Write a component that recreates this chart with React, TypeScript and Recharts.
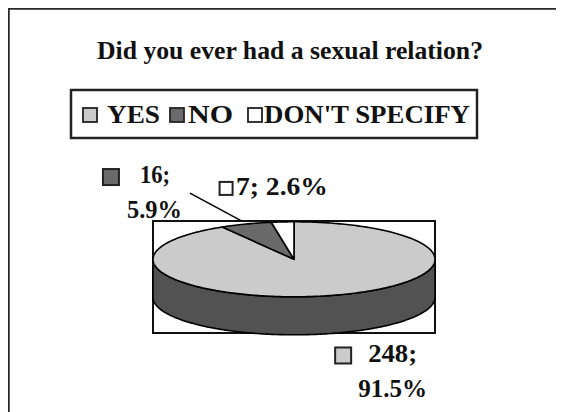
import React from 'react';
import { PieChart, Pie, Customized } from 'recharts';

const TITLE = 'Did you ever had a sexual relation?';
const CATEGORIES = ['YES', 'NO', "DON'T SPECIFY"];
const COUNTS = [248, 16, 7];
const PERCENTS = ['91.5%', '5.9%', '2.6%'];
const TOP_COLORS = ['#cbcbcb', '#6a6a6a', '#ffffff'];
const SIDE_COLORS = ['#525252', '#3a3a3a', '#bdbdbd'];

const data = CATEGORIES.map((name, i) => ({
  name,
  value: COUNTS[i],
  pct: PERCENTS[i],
  fill: TOP_COLORS[i],
  side: SIDE_COLORS[i],
}));

const W = 556;
const H = 404;
const CX = 286;
const CY = 251.3;
const R = 141;
const K = 0.266; // tilt (ry / rx)
const DEPTH = 38;
const FONT = '"Liberation Serif", "Times New Roman", serif';
const RAD = Math.PI / 180;

const pt = (cx: number, cy: number, r: number, a: number, dy = 0) => [
  cx + r * Math.cos(-a * RAD),
  cy + r * K * Math.sin(-a * RAD) + dy,
];

const arcPts = (cx: number, cy: number, r: number, a: number, b: number, dy = 0) => {
  const n = Math.max(2, Math.ceil(Math.abs(b - a)));
  const out: number[][] = [];
  for (let i = 0; i <= n; i++) out.push(pt(cx, cy, r, a + ((b - a) * i) / n, dy));
  return out;
};

const toD = (pts: number[][]) => pts.map((p, i) => `${i ? 'L' : 'M'}${p[0].toFixed(2)},${p[1].toFixed(2)}`).join(' ');

function Slice3D(props: any) {
  const { cx, cy, outerRadius: r, startAngle, endAngle, fill } = props;
  const side = props.side ?? props.payload?.side ?? '#555';
  const lo = Math.min(startAngle, endAngle);
  const hi = Math.max(startAngle, endAngle);
  const walls: React.ReactNode[] = [];
  [-720, -360, 0, 360].forEach((k) => {
    const a = Math.max(lo, 180 + k);
    const b = Math.min(hi, 360 + k);
    if (b > a) {
      const top = arcPts(cx, cy, r, a, b);
      const bot = arcPts(cx, cy, r, b, a, DEPTH);
      walls.push(
        <path key={k} d={toD([...top, ...bot]) + ' Z'} fill={side} stroke="#000" strokeWidth={1.6} strokeLinejoin="round" />
      );
    }
  });
  const topFace = [[cx, cy], ...arcPts(cx, cy, r, startAngle, endAngle)];
  return (
    <g>
      {walls}
      <path d={toD(topFace) + ' Z'} fill={fill} stroke="#000" strokeWidth={1.6} strokeLinejoin="round" />
    </g>
  );
}

// label layout offsets relative to the slice's mid-point on the pie rim
const LABEL_LAYOUT = [
  { marker: [4, 52, 16], lines: [[37, 66.5, 49], [27, 101.5, 69]], leader: null },
  { marker: [-143, -55, 16], lines: [[-106, -41, 30], [-119, -6, 55]], leader: [-56, -31, -4, -3] },
  { marker: [-63, -40, 13], lines: [[-46.6, -27, 92]], leader: null },
];

function renderLabel(props: any) {
  const { cx, cy, outerRadius, index } = props;
  const mid = props.midAngle ?? (props.startAngle + props.endAngle) / 2;
  const [ax, ay] = pt(cx, cy, outerRadius, mid);
  const d = data[index];
  const lay = LABEL_LAYOUT[index];
  const texts = lay.lines.length === 2 ? [`${d.value};`, d.pct] : [`${d.value}; ${d.pct}`];
  return (
    <g key={`lbl-${index}`}>
      {lay.leader && (
        <line x1={ax + lay.leader[0]} y1={ay + lay.leader[1]} x2={ax + lay.leader[2]} y2={ay + lay.leader[3]} stroke="#000" strokeWidth={1.5} />
      )}
      <rect x={ax + lay.marker[0]} y={ay + lay.marker[1]} width={lay.marker[2]} height={lay.marker[2]} fill={d.fill} stroke="#222" strokeWidth={2} />
      {lay.lines.map((l, i) => (
        <text
          key={i}
          x={ax + l[0]}
          y={ay + l[1]}
          fontFamily={FONT}
          fontWeight="bold"
          fontSize={25}
          fill="#111"
          textLength={l[2]}
          lengthAdjust="spacingAndGlyphs"
        >
          {texts[i]}
        </text>
      ))}
    </g>
  );
}

const LEGEND_ITEMS = [
  { marker: 75, text: 99, len: 53 },
  { marker: 162, text: 180, len: 45 },
  { marker: 240, text: 256, len: 206 },
];

function Decor() {
  return (
    <g>
      <line x1={0.5} y1={0} x2={0.5} y2={H} stroke="#2a2a2a" strokeWidth={2.5} />
      <line x1={0} y1={0.5} x2={W} y2={0.5} stroke="#2a2a2a" strokeWidth={2.5} />
      <text
        x={282}
        y={51}
        textAnchor="middle"
        fontFamily={FONT}
        fontWeight="bold"
        fontSize={25}
        fill="#111"
        textLength={386}
        lengthAdjust="spacingAndGlyphs"
      >
        {TITLE}
      </text>
      <rect x={63} y={82} width={406} height={48} fill="none" stroke="#222" strokeWidth={2.5} />
      {CATEGORIES.map((c, i) => (
        <g key={c}>
          <rect x={LEGEND_ITEMS[i].marker} y={100} width={14} height={14} fill={TOP_COLORS[i]} stroke="#222" strokeWidth={1.8} />
          <text
            x={LEGEND_ITEMS[i].text}
            y={115}
            fontFamily={FONT}
            fontWeight="bold"
            fontSize={26}
            fill="#111"
            textLength={LEGEND_ITEMS[i].len}
            lengthAdjust="spacingAndGlyphs"
          >
            {c}
          </text>
        </g>
      ))}
      <rect x={145} y={213} width={282} height={112} fill="#fff" stroke="#111" strokeWidth={2} />
    </g>
  );
}

export default function App() {
  return (
    <div style={{ width: W, height: H, background: '#fff' }}>
      <style>{'html,body{overflow:hidden;}'}</style>
      <PieChart width={W} height={H} margin={{ top: 0, right: 0, bottom: 0, left: 0 }}>
        <Customized component={Decor} />
        <Pie
          data={data}
          dataKey="value"
          nameKey="name"
          cx={CX}
          cy={CY}
          outerRadius={R}
          startAngle={90}
          endAngle={-270}
          isAnimationActive={false}
          label={renderLabel}
          labelLine={false}
          shape={Slice3D}
          activeShape={Slice3D}
          inactiveShape={Slice3D}
          stroke="none"
        />
      </PieChart>
    </div>
  );
}
